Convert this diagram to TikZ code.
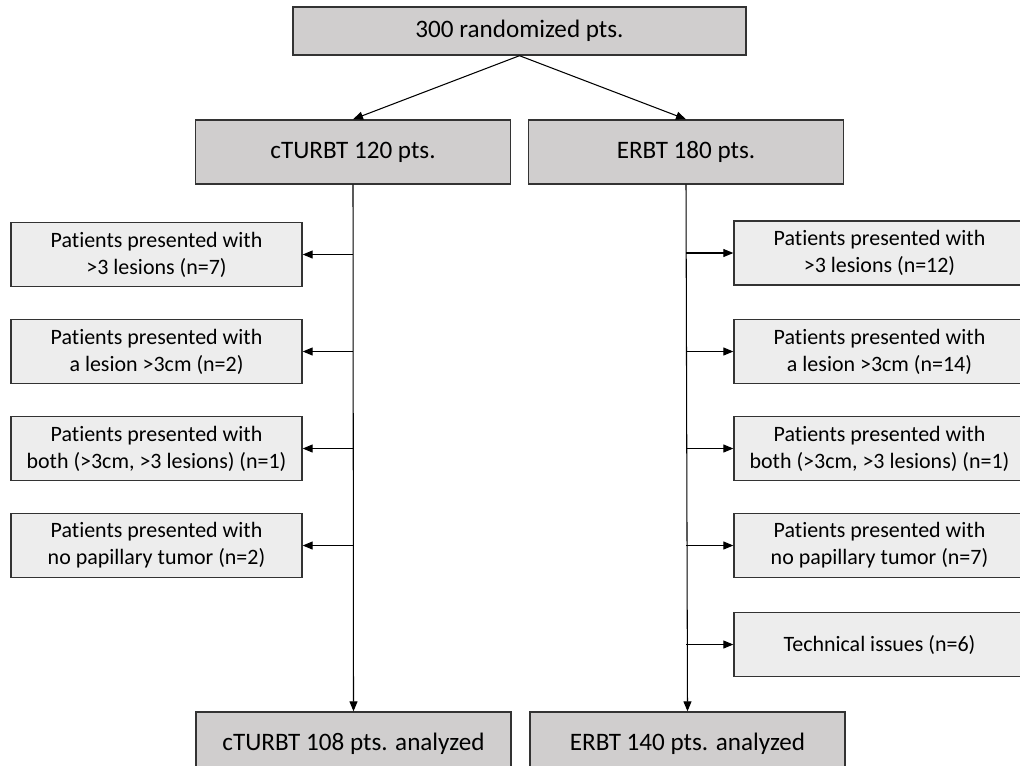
\documentclass[tikz,border=0pt]{standalone}
\usepackage{fontspec}
\setmainfont{Carlito}[Ligatures=NoCommon]
\usetikzlibrary{arrows.meta, positioning}
\definecolor{cmain}{HTML}{D0CECE}
\definecolor{cside}{HTML}{EDEDED}
\definecolor{cline}{HTML}{333333}
\tikzset{
  every picture/.style={line width=0.8pt},
  box/.style={draw=cline, fill=#1, inner sep=0pt, align=center, minimum height=1.28cm},
  box/.default=cmain,
  mainbox/.style={box=cmain, minimum width=6.3cm, font=\fontsize{14.3}{17}\selectfont},
  sidebox/.style={box=cside, minimum width=5.82cm, font=\fontsize{12.5}{15.3}\selectfont},
  arrow/.style={-{Triangle[length=2mm, width=1.6mm]}, draw=black, line width=0.6pt},
}
\begin{document}
\begin{tikzpicture}[x=0.02cm, y=-0.02cm]
  \useasboundingbox (0,0) rectangle (1020,765);
  % randomisation
  \node[mainbox, minimum width=9.06cm, minimum height=0.96cm] (rand) at (519.5,31) {300 randomized pts.};
  \node[mainbox] (cturbt) at (353,152) {cTURBT 120 pts.};
  \node[mainbox] (erbt) at (686,152) {ERBT 180 pts.};
  % excluded, cTURBT arm
  \node[sidebox] (exL1) at (156.5,254.5) {Patients presented with\\>3 lesions (n=7)};
  \node[sidebox] (exL2) at (156.5,351.5) {Patients presented with\\a lesion >3cm (n=2)};
  \node[sidebox] (exL3) at (156.5,448.5) {Patients presented with\\both (>3cm, >3 lesions) (n=1)};
  \node[sidebox] (exL4) at (156.5,545.5) {Patients presented with\\no papillary tumor (n=2)};
  % excluded, ERBT arm
  \node[sidebox] (exR1) at (879.5,253) {Patients presented with\\>3 lesions (n=12)};
  \node[sidebox] (exR2) at (879.5,351.5) {Patients presented with\\a lesion >3cm (n=14)};
  \node[sidebox] (exR3) at (879.5,448.5) {Patients presented with\\both (>3cm, >3 lesions) (n=1)};
  \node[sidebox] (exR4) at (879.5,545.5) {Patients presented with\\no papillary tumor (n=7)};
  \node[sidebox] (exR5) at (879.5,644.5) {Technical issues (n=6)};
  % analyzed
  \node[mainbox] (cturbtA) at (353.5,744) {cTURBT 108 pts. analyzed};
  \node[mainbox] (erbtA) at (687.5,744) {ERBT 140 pts. analyzed};
  % connectors
  \draw[arrow] (rand.south) -- (cturbt.north);
  \draw[arrow] (rand.south) -- (erbt.north);
  \draw[arrow] (cturbt.south) -- (cturbtA.north);
  \draw[arrow] (erbt.south) -- (erbtA.north);
  \foreach \n in {1,...,4}
    \draw[arrow] (cturbt.south |- exL\n.east) -- (exL\n.east);
  \foreach \n in {1,...,5}
    \draw[arrow] (erbt.south |- exR\n.west) -- (exR\n.west);
\end{tikzpicture}
\end{document}
